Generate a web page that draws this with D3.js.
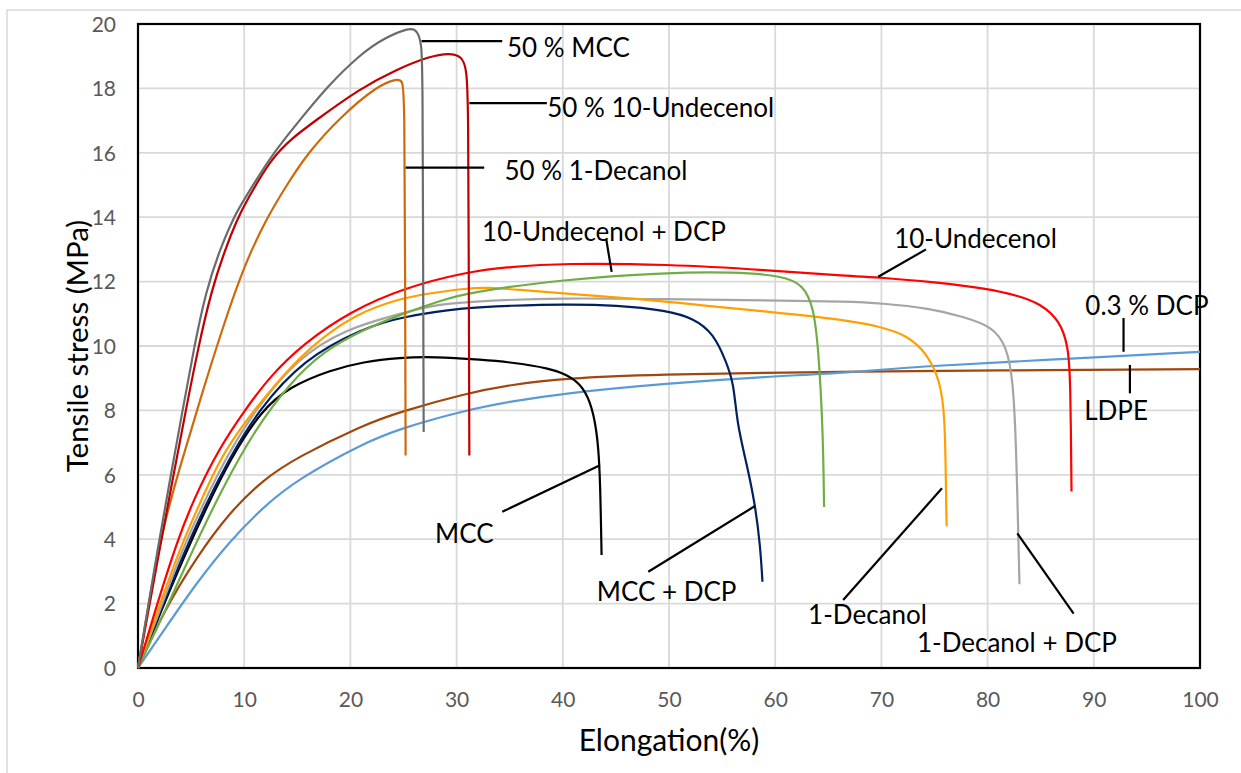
<!doctype html>
<html lang="en">
<head>
    <meta charset="utf-8">
    <title>Tensile stress vs elongation</title>
    <script src="https://cdnjs.cloudflare.com/ajax/libs/d3/7.8.5/d3.min.js"></script>
    <style>
        body { margin: 0; background: #fff; }
        text { font-family: Lato, "Open Sans", sans-serif; }
    </style>
</head>
<body>
<script>
    // curves: [elongation %, stress MPa]
    var mcc50 = [[0,0],[2.0,4.0],[3.1,6.0],[4.2,8.0],[5.3,10.0],[6.4,11.7],[7.6,12.9],[9.0,14.0],[10,14.55],[12.6,15.95],[15.2,17.0],[17.8,18.05],[20.9,19.05],[23.1,19.55],[25.6,19.9],[26.3,19.8],[26.7,19.4],[26.8,18.5],[26.85,12],[26.9,7.33]];
    var undecenol50 = [[0,0],[2.2,4.0],[3.35,6.0],[4.5,8.0],[5.7,10.0],[6.9,11.7],[8.2,13.0],[9.3,13.9],[10.2,14.5],[12.6,15.85],[14.5,16.45],[16.5,16.95],[20.9,18.0],[24.4,18.6],[27.5,19.0],[29.3,19.1],[30.5,19.0],[30.95,18.6],[31.1,17.5],[31.15,12],[31.2,6.6]];
    var decanol50 = [[0,0],[2.0,4.0],[4.0,6.3],[6.0,8.5],[8.0,10.6],[10.0,12.5],[12.0,13.9],[14.0,15.0],[16.0,16.0],[19.0,17.1],[22.6,18.1],[24.4,18.3],[24.9,18.25],[25.1,17.8],[25.15,12],[25.2,6.6]];
    var undecenol = [[0,0],[2.0,2.2],[3.6,3.85],[5.2,5.22],[7.72,6.87],[10.07,8.01],[12.4,9.05],[15.6,10.08],[19.96,11.07],[25,11.8],[30.9,12.3],[35,12.46],[40,12.57],[49.8,12.54],[59.2,12.36],[67,12.17],[69.9,12.13],[75,11.98],[79.9,11.79],[83,11.55],[84.9,11.32],[86.8,10.8],[87.6,9.98],[87.8,8.95],[87.9,5.48]];
    var undecenolDcp = [[0,0],[2.6,1.8],[5.2,3.7],[7.9,5.55],[11.0,7.4],[14.3,8.85],[17.5,9.85],[21.2,10.5],[24.7,10.98],[28.7,11.43],[30.9,11.65],[40,12.07],[49.8,12.28],[56,12.3],[60.8,12.18],[62.65,11.89],[63.6,11.22],[64.06,9.98],[64.5,7.39],[64.6,5.0]];
    var decanol = [[0,0],[2.3,2.2],[4.0,3.75],[5.8,5.1],[8.0,6.7],[10.9,8.0],[14.6,9.46],[17.5,10.3],[20.6,11.0],[24.7,11.48],[27.5,11.64],[30.9,11.79],[33,11.82],[35.7,11.75],[40,11.63],[46.6,11.48],[52.9,11.27],[59.2,11.07],[66.7,10.81],[69.9,10.6],[72.4,10.34],[74.3,9.77],[75.5,8.94],[76.0,7.9],[76.1,4.9],[76.15,4.4]];
    var decanolDcp = [[0,0],[2.4,2.1],[4.2,3.7],[6.0,5.0],[8.3,6.55],[11.0,8.0],[14.9,9.6],[19.65,10.55],[24.7,11.0],[27.5,11.25],[30.9,11.38],[40,11.5],[49.8,11.45],[59.2,11.42],[67,11.38],[69.9,11.33],[74.6,11.17],[77.7,10.91],[80.5,10.6],[81.8,9.98],[82.4,8.94],[82.7,6.87],[83.0,2.6]];
    var mccDcp = [[0,0],[2.4,2.0],[4.3,3.55],[6.2,4.95],[8.5,6.45],[11.3,8.0],[15.6,9.6],[21.2,10.55],[24.7,10.9],[30.9,11.2],[35,11.25],[40,11.3],[45.1,11.27],[49.8,11.1],[52.3,10.86],[54.2,10.39],[55.4,9.5],[56.1,8.84],[56.4,7.6],[57.3,6.36],[58.1,5.11],[58.6,3.77],[58.8,2.68]];
    var mcc = [[0,0],[2.4,1.95],[4.4,3.5],[6.4,4.95],[8.7,6.5],[11.6,8.0],[14.3,8.74],[18.1,9.25],[21.2,9.51],[24.7,9.64],[27.8,9.67],[32.5,9.57],[35,9.5],[38.8,9.31],[40.4,9.1],[41.6,8.84],[42.6,8.3],[43.2,7.39],[43.5,6.25],[43.65,3.51]];
    var ldpe = [[0,0],[2.39,1.75],[5.52,3.45],[8.66,4.85],[11.8,5.85],[14.9,6.53],[21.2,7.55],[24.7,7.96],[30.9,8.53],[35,8.79],[40,9.0],[49.8,9.12],[59.2,9.17],[67,9.2],[80,9.24],[100,9.28]];
    var dcp03 = [[0,0],[2.39,1.15],[5.52,2.65],[8.66,3.95],[11.8,5.0],[14.9,5.84],[21.2,6.98],[24.7,7.44],[30.9,8.01],[35,8.27],[40,8.53],[49.8,8.84],[59.2,9.05],[67,9.17],[73,9.36],[85.6,9.57],[100,9.82]];

    var seriesNames = ["LDPE","0.3 % DCP","MCC","MCC + DCP","1-Decanol + DCP","1-Decanol","10-Undecenol + DCP","10-Undecenol","50 % 1-Decanol","50 % 10-Undecenol","50 % MCC"];
    var seriesData = [ldpe, dcp03, mcc, mccDcp, decanolDcp, decanol, undecenolDcp, undecenol, decanol50, undecenol50, mcc50];
    var seriesColors = ["#9E480E","#5B9BD5","#000000","#002060","#A5A5A5","#FFA000","#70AD47","#FF0000","#CF6A0C","#C00000","#6B6B6B"];

    var xTicks = [0,10,20,30,40,50,60,70,80,90,100];
    var yTicks = [0,2,4,6,8,10,12,14,16,18,20];

    // callout labels: text, x, y (baseline) in data units
    var labelText = ["50 % MCC","50 % 10-Undecenol","50 % 1-Decanol","10-Undecenol + DCP","10-Undecenol","0.3 % DCP","LDPE","MCC","MCC + DCP","1-Decanol","1-Decanol + DCP"];
    var labelX = [34.75, 38.54, 34.5, 32.4, 71.2, 89.2, 89.1, 27.97, 43.2, 63.1, 73.35];
    var labelY = [18.98, 17.11, 15.16, 13.26, 13.04, 10.96, 7.7, 3.88, 2.08, 1.37, 0.5];
    // leader lines: [x1, y1, x2, y2] in data units
    var leaders = [[26.7,19.47,34.3,19.47],[31.2,17.54,38.5,17.54],[25.2,15.54,32.6,15.54],[44.1,13.3,44.6,12.3],[74.2,13.0,69.7,12.15],[92.8,10.87,92.8,9.82],[93.4,9.41,93.4,8.53],[34.3,4.85,43.5,6.3],[48.05,2.99,58.1,5.03],[66.4,2.11,75.7,5.58],[82.8,4.18,88.1,1.69]];

    var svg = d3.select("body").append("svg")
            .attr("width",1241).attr("height",773);

    svg.append("rect").attr("x",7).attr("y",10).attr("width",1240).attr("height",770)
        .attr("fill","#fff").attr("stroke","#d9d9d9").attr("stroke-width",1.5);

    var x = d3.scaleLinear().domain([0,100]).range([138,1200]);
    var y = d3.scaleLinear().domain([0,20]).range([668,24]);

    // grid
    svg.append("g").selectAll("line").data(xTicks).enter().append("line")
        .attr("x1", function(d){return x(d);}).attr("x2", function(d){return x(d);})
        .attr("y1", y(0)).attr("y2", y(20))
        .attr("stroke","#d9d9d9").attr("stroke-width",1.8);
    svg.append("g").selectAll("line").data(yTicks).enter().append("line")
        .attr("y1", function(d){return y(d);}).attr("y2", function(d){return y(d);})
        .attr("x1", x(0)).attr("x2", x(100))
        .attr("stroke","#d9d9d9").attr("stroke-width",1.8);

    // axes
    var xAxis = svg.append("g").attr("transform","translate(0,"+y(0)+")")
        .call(d3.axisBottom(x).tickValues(xTicks).tickSize(0).tickPadding(24));
    var yAxis = svg.append("g").attr("transform","translate("+x(0)+",0)")
        .call(d3.axisLeft(y).tickValues(yTicks).tickSize(0).tickPadding(22));
    [xAxis, yAxis].forEach(function(a){
        a.select(".domain").remove();
        a.selectAll("text").attr("fill","#595959").style("font-size","21px").style("font-family","Lato");
    });
    yAxis.selectAll("text").attr("dy","0.35em");

    // plot frame
    svg.append("rect").attr("x",x(0)).attr("y",y(20))
        .attr("width",x(100)-x(0)).attr("height",y(0)-y(20))
        .attr("fill","none").attr("stroke","#000").attr("stroke-width",2.2);

    // smooth the hand-read points
    var line = d3.line()
        .x(function(d){return x(d[0]);})
        .y(function(d){return y(d[1]);})
        .curve(d3.curveBasis);

    svg.append("g").selectAll("path").data(seriesData).enter().append("path")
        .attr("d", line)
        .attr("fill","none")
        .attr("stroke", function(d,i){return seriesColors[i];})
        .attr("stroke-width",2.2)
        .attr("stroke-linejoin","round");

    svg.append("g").selectAll("line").data(leaders).enter().append("line")
        .attr("x1", function(d){return x(d[0]);}).attr("y1", function(d){return y(d[1]);})
        .attr("x2", function(d){return x(d[2]);}).attr("y2", function(d){return y(d[3]);})
        .attr("stroke","#000").attr("stroke-width",2.2);

    svg.append("g").selectAll("text").data(labelText).enter().append("text")
        .attr("x", function(d,i){return x(labelX[i]);})
        .attr("y", function(d,i){return y(labelY[i]);})
        .attr("fill","#000")
        .style("font-size","26px")
        .text(function(d){return d;});

    svg.append("text").attr("x",(x(0)+x(100))/2).attr("y",751)
        .attr("text-anchor","middle").style("font-size","30px")
        .text("Elongation(%)");
    svg.append("text").attr("transform","translate(88,"+y(10)+") rotate(-90)")
        .attr("text-anchor","middle").style("font-size","29.5px")
        .text("Tensile stress (MPa)");
</script>
</body>
</html>
